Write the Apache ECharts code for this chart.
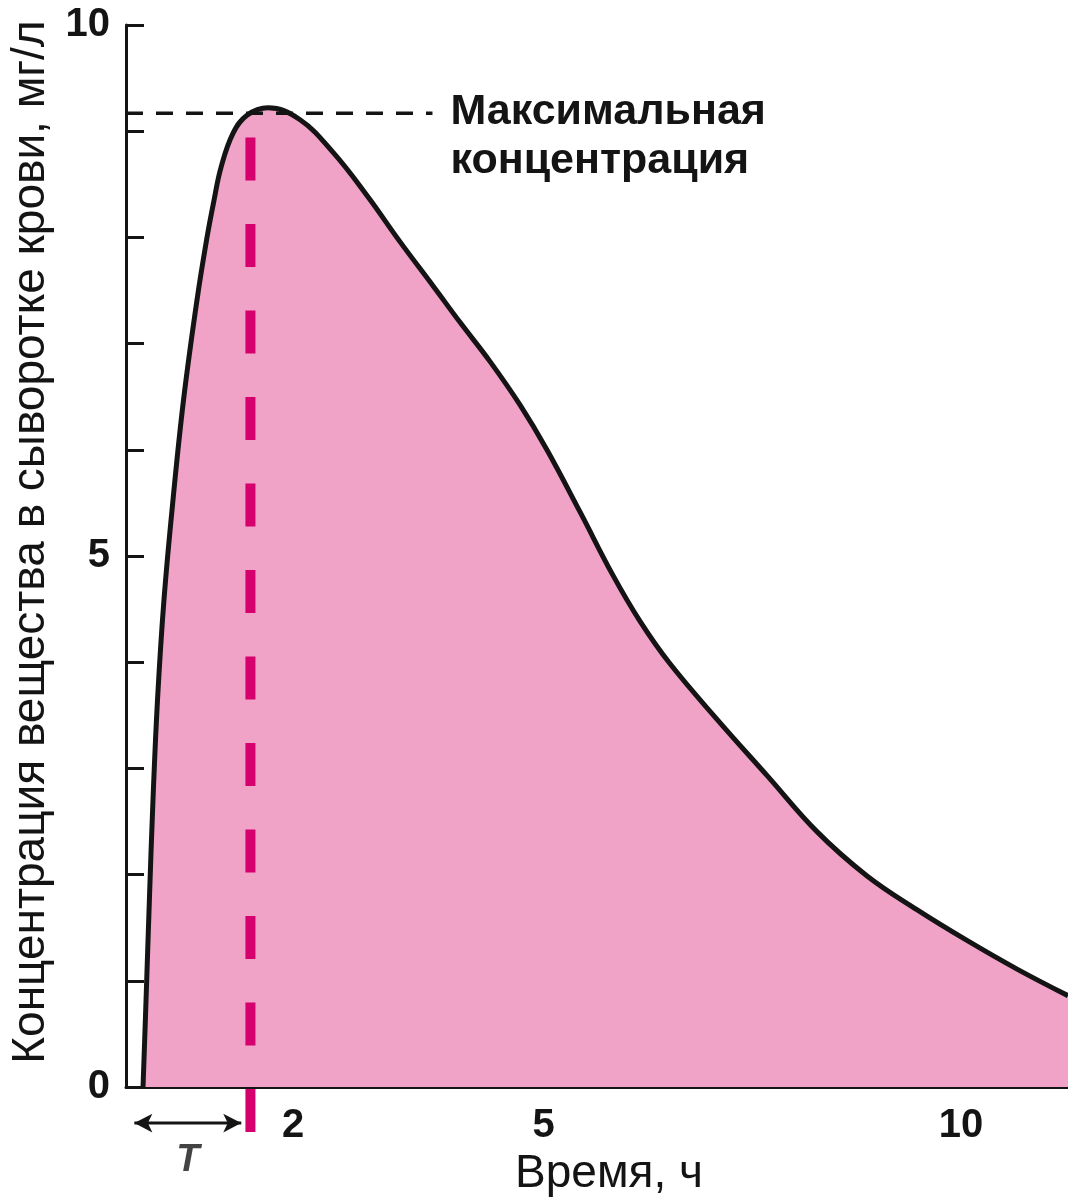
<!DOCTYPE html>
<html>
<head>
<meta charset="utf-8">
<script src="https://cdn.jsdelivr.net/npm/echarts@6/dist/echarts.min.js"></script>
<style>
  html, body { margin: 0; padding: 0; background: #fff; }
  #chart { width: 1068px; height: 1203px; }
</style>
</head>
<body>
<div id="chart"></div>
<script>
// curve: time (h) and serum concentration (mg/l)
const times = [0.204, 0.24, 0.28, 0.323, 0.377, 0.455, 0.563, 0.689, 0.85, 0.97, 1.054, 1.138,
               1.281, 1.449, 1.70, 2.08, 2.48, 2.89, 3.28, 3.68, 4.00, 4.36, 4.72, 5.04, 5.44,
               5.83, 6.16, 6.51, 7.08, 7.68, 8.28, 8.87, 9.47, 10.07, 10.67, 11.28];
const conc  = [0, 0.82, 1.76, 2.70, 3.64, 4.59, 5.53, 6.47, 7.41, 8.00, 8.35, 8.66,
               8.98, 9.15, 9.22, 9.11, 8.80, 8.39, 7.96, 7.54, 7.20, 6.83, 6.42, 6.00, 5.41,
               4.82, 4.38, 3.99, 3.46, 2.93, 2.40, 1.99, 1.67, 1.38, 1.11, 0.86];

const xTicks = [1, 2, 3, 4, 5, 6, 7, 8, 9, 10, 11];
const xLabels = [2, 5, 10];
const yTicks = [1, 2, 3, 4, 5, 6, 7, 8, 9, 10];
const yLabels = [0, 5, 10];

const maxLevel = 9.17;        // dashed "max concentration" level
const maxLineEnd = 3.67;      // where that dashed line stops
const tMark = 1.49;           // magenta vertical marker
const tMarkSpan = [8.94, -0.43];
const arrowLevel = -0.34;     // the T arrow under the axis
const arrowSpan = [0.10, 1.38];
const arrowLabelAt = 0.74;

const FONT = '"Liberation Sans", Arial, sans-serif';
const INK = '#141414';

let chart = echarts.init(document.getElementById('chart'), null, { renderer: 'canvas' });

let curveData = times.map((t, i) => [t, conc[i]]);

let option = {
    backgroundColor: '#fff',
    animation: false,
    grid: { left: 126, right: 0, top: 25, bottom: 116 },
    xAxis: {
        type: 'value',
        min: 0,
        max: 11.28,
        interval: 1,
        name: 'Время, ч',
        nameLocation: 'middle',
        nameGap: 61,
        nameTextStyle: { fontFamily: FONT, fontSize: 46, color: INK, padding: [0, 0, 0, 24] },
        axisLine: { show: true, lineStyle: { color: INK, width: 3 } },
        axisTick: { show: true, inside: true, length: 22, customValues: xTicks, lineStyle: { color: INK, width: 3 } },
        axisLabel: {
            customValues: xLabels,
            margin: 19,
            fontFamily: FONT, fontSize: 40, fontWeight: 'bold', color: INK
        },
        splitLine: { show: false }
    },
    yAxis: {
        type: 'value',
        min: 0,
        max: 10,
        interval: 1,
        name: 'Концентрация вещества в сыворотке крови, мг/л',
        nameLocation: 'middle',
        nameRotate: 90,
        nameGap: 70,
        nameTextStyle: { fontFamily: FONT, fontSize: 46, color: INK, padding: [0, 0, 0, 28] },
        axisLine: { show: true, lineStyle: { color: INK, width: 3 } },
        axisTick: { show: true, inside: true, length: 18, customValues: yTicks, lineStyle: { color: INK, width: 3 } },
        axisLabel: {
            customValues: yLabels,
            margin: 16,
            fontFamily: FONT, fontSize: 40, fontWeight: 'bold', color: INK
        },
        splitLine: { show: false }
    },
    series: [
        {
            // concentration curve with pink area under it
            type: 'line',
            data: curveData,
            smooth: 0.4,
            showSymbol: false,
            lineStyle: { color: INK, width: 5 },
            areaStyle: { color: '#f0a3c7', opacity: 1 },
            z: 2
        },
        {
            // dashed level of the maximum concentration
            type: 'line',
            data: [[0, maxLevel], [maxLineEnd, maxLevel]],
            showSymbol: false,
            lineStyle: { color: INK, width: 3.5, type: [17, 13], cap: 'butt' },
            endLabel: {
                show: true,
                formatter: 'Максимальная\nконцентрация',
                fontFamily: FONT, fontSize: 43, fontWeight: 'bold', lineHeight: 49,
                color: INK,
                distance: 18,
                offset: [0, 23]
            },
            z: 4
        },
        {
            // magenta marker line at time T
            type: 'line',
            data: [[tMark, tMarkSpan[0]], [tMark, tMarkSpan[1]]],
            showSymbol: false,
            clip: false,
            lineStyle: { color: '#d5006e', width: 10, type: [43, 43.5], cap: 'butt' },
            z: 3
        },
        {
            // double arrow for T below the axis
            type: 'line',
            clip: false,
            data: [
                { value: [arrowSpan[0], arrowLevel], symbolRotate: 90 },
                { value: [arrowSpan[1], arrowLevel], symbolRotate: -90 }
            ],
            symbol: 'arrow',
            symbolSize: [14, 18],
            showSymbol: true,
            itemStyle: { color: INK },
            lineStyle: { color: INK, width: 3 },
            z: 4
        },
        {
            type: 'scatter',
            clip: false,
            data: [[arrowLabelAt, arrowLevel]],
            symbolSize: 1,
            itemStyle: { color: 'rgba(0,0,0,0)' },
            label: {
                show: true,
                formatter: 'T',
                position: 'bottom',
                distance: 18,
                fontFamily: FONT, fontSize: 38, fontStyle: 'italic', fontWeight: 'bold',
                color: INK
            },
            z: 4
        }
    ]
};

chart.setOption(option);
</script>
</body>
</html>
